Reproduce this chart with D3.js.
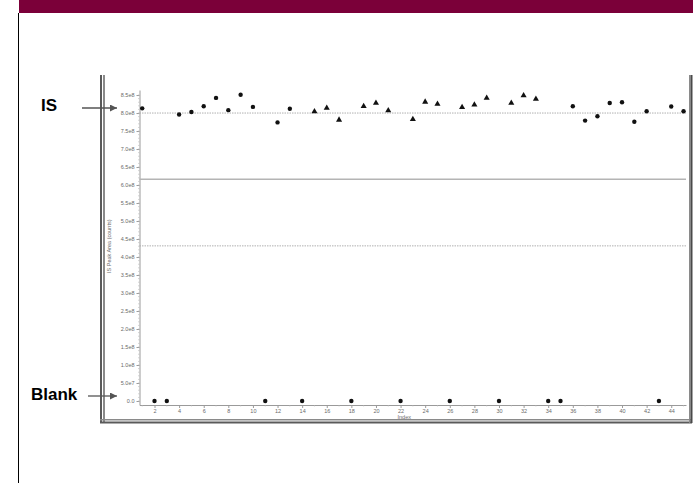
<!DOCTYPE html>
<html>
<head>
<meta charset="utf-8">
<script src="https://cdn.jsdelivr.net/npm/d3@7"></script>
<style>
  html, body { margin: 0; padding: 0; background: #fff; }
  svg { display: block; }
</style>
</head>
<body>
<script>
// Internal-standard peak areas by injection index, drawn as two marker groups
const isCircleIndex = [1, 4, 5, 6, 7, 8, 9, 10, 12, 13, 36, 37, 38, 39, 40, 41, 42, 44, 45];
const isCircleArea  = [8.13e8, 7.96e8, 8.03e8, 8.19e8, 8.42e8, 8.08e8, 8.51e8, 8.17e8, 7.74e8, 8.12e8,
                       8.19e8, 7.79e8, 7.91e8, 8.28e8, 8.30e8, 7.76e8, 8.05e8, 8.18e8, 8.05e8];
const isTriangleIndex = [15, 16, 17, 19, 20, 21, 23, 24, 25, 27, 28, 29, 31, 32, 33];
const isTriangleArea  = [8.04e8, 8.14e8, 7.81e8, 8.19e8, 8.28e8, 8.07e8, 7.83e8, 8.31e8, 8.25e8,
                         8.16e8, 8.23e8, 8.42e8, 8.28e8, 8.49e8, 8.39e8];
// Blank injections (no internal standard)
const blankIndex = [2, 3, 11, 14, 18, 22, 26, 30, 34, 35, 43];
const blankArea  = [0, 0, 0, 0, 0, 0, 0, 0, 0, 0, 0];

// Reference levels: mean (dotted), upper limit (solid), lower limit (dashed)
const refMean  = 8.0e8;
const refSolid = 6.16e8;
const refLower = 4.31e8;

// Axis ticks
const yTicks = [0, 0.5e8, 1.0e8, 1.5e8, 2.0e8, 2.5e8, 3.0e8, 3.5e8, 4.0e8, 4.5e8,
                5.0e8, 5.5e8, 6.0e8, 6.5e8, 7.0e8, 7.5e8, 8.0e8, 8.5e8];
const xTicks = [2, 4, 6, 8, 10, 12, 14, 16, 18, 20, 22, 24, 26, 28, 30, 32, 34, 36, 38, 40, 42, 44];
const xMinorTicks = [1, 3, 5, 7, 9, 11, 13, 15, 17, 19, 21, 23, 25, 27, 29, 31, 33, 35, 37, 39, 41, 43, 45];

const W = 693, H = 483;
const svg = d3.select("body").append("svg").attr("width", W).attr("height", H);

// Header band and left rule
svg.append("rect").attr("x", 19).attr("y", 0).attr("width", W - 19).attr("height", 13).attr("fill", "#7b0039");
svg.append("line").attr("x1", 18.5).attr("x2", 18.5).attr("y1", 13).attr("y2", H)
  .attr("stroke", "#000").attr("stroke-width", 1);

// Window frame around the plot
const frame = svg.append("g");
frame.append("rect").attr("x", 100).attr("y", 75).attr("width", 2).attr("height", 348).attr("fill", "#5a5a5a");
frame.append("rect").attr("x", 103).attr("y", 75).attr("width", 2).attr("height", 348).attr("fill", "#8a8a8a");
frame.append("rect").attr("x", 100).attr("y", 419).attr("width", 592).attr("height", 1.5).attr("fill", "#8a8a8a");
frame.append("rect").attr("x", 100).attr("y", 421.5).attr("width", 592).attr("height", 2).attr("fill", "#5a5a5a");
frame.append("rect").attr("x", 689).attr("y", 75).attr("width", 1.5).attr("height", 348).attr("fill", "#8a8a8a");
frame.append("rect").attr("x", 690.5).attr("y", 75).attr("width", 2).attr("height", 348).attr("fill", "#4a4a4a");

// Scales
const x = d3.scaleLinear().domain([0.78, 45.2]).range([139.5, 686]);
const y = d3.scaleLinear().domain([-0.111e8, 8.64e8]).range([405, 90]);

const plot = svg.append("g");
const axisColor = "#9a9a9a";
const labelColor = "#6a6a6a";
const tickFont = "5.5px";

// Y axis
const fmt = v => v === 0 ? "0.0" : d3.format(".1e")(v).replace("+", "");
const yAxis = plot.append("g").attr("transform", "translate(139.5,0)")
  .call(d3.axisLeft(y).tickValues(yTicks).tickFormat(fmt).tickSize(3).tickPadding(2).tickSizeOuter(0));
yAxis.select(".domain").attr("stroke", axisColor);
yAxis.selectAll(".tick line").attr("stroke", axisColor);
yAxis.selectAll(".tick text").attr("fill", labelColor).style("font-size", tickFont)
  .style("font-family", "Liberation Sans, Arial, sans-serif");
// Y minor ticks
const yMinor = d3.range(0, 8.6e8, 1e7);
plot.append("g").selectAll("line").data(yMinor).join("line")
  .attr("x1", 138).attr("x2", 139.5).attr("y1", d => y(d)).attr("y2", d => y(d))
  .attr("stroke", "#b8b8b8").attr("stroke-width", 0.6);

// X axis
const xAxis = plot.append("g").attr("transform", "translate(0,405)")
  .call(d3.axisBottom(x).tickValues(xTicks).tickFormat(d3.format("d")).tickSize(3).tickPadding(1.5).tickSizeOuter(0));
xAxis.select(".domain").attr("stroke", axisColor);
xAxis.selectAll(".tick line").attr("stroke", axisColor);
xAxis.selectAll(".tick text").attr("fill", labelColor).style("font-size", tickFont)
  .style("font-family", "Liberation Sans, Arial, sans-serif");
plot.append("g").selectAll("line").data(xMinorTicks).join("line")
  .attr("x1", d => x(d)).attr("x2", d => x(d)).attr("y1", 405).attr("y2", 406.5)
  .attr("stroke", "#b8b8b8").attr("stroke-width", 0.6);

// Axis titles
plot.append("text").attr("transform", `translate(111,${y(4.3e8)}) rotate(-90)`)
  .attr("text-anchor", "middle").attr("fill", labelColor)
  .style("font-size", "5.5px").style("font-family", "Liberation Sans, Arial, sans-serif")
  .text("IS Peak Area (counts)");
plot.append("text").attr("x", x(22.3)).attr("y", 419)
  .attr("text-anchor", "middle").attr("fill", labelColor)
  .style("font-size", "5.5px").style("font-family", "Liberation Sans, Arial, sans-serif")
  .text("Index");

// Reference lines
const [x0, x1] = x.range();
plot.append("line").attr("x1", x0).attr("x2", x1).attr("y1", y(refMean)).attr("y2", y(refMean))
  .attr("stroke", "#b0b0b0").attr("stroke-width", 1).attr("stroke-dasharray", "1.5,1");
plot.append("line").attr("x1", x0).attr("x2", x1).attr("y1", y(refSolid)).attr("y2", y(refSolid))
  .attr("stroke", "#b4b4b4").attr("stroke-width", 1.3);
plot.append("line").attr("x1", x0).attr("x2", x1).attr("y1", y(refLower)).attr("y2", y(refLower))
  .attr("stroke", "#b0b0b0").attr("stroke-width", 1).attr("stroke-dasharray", "1.5,1");

// Markers
const circleData = isCircleIndex.map((d, i) => ({ i: d, v: isCircleArea[i] }));
const triData = isTriangleIndex.map((d, i) => ({ i: d, v: isTriangleArea[i] }));
const blankData = blankIndex.map((d, i) => ({ i: d, v: blankArea[i] }));

plot.append("g").selectAll("circle").data(circleData.concat(blankData)).join("circle")
  .attr("cx", d => x(d.i)).attr("cy", d => y(d.v)).attr("r", 2.2).attr("fill", "#111");
const tri = d3.symbol().type(d3.symbolTriangle).size(16);
plot.append("g").selectAll("path").data(triData).join("path")
  .attr("transform", d => `translate(${x(d.i)},${y(d.v)})`).attr("d", tri).attr("fill", "#111");

// Callout labels with arrows
const defs = svg.append("defs");
defs.append("marker").attr("id", "arrowHead").attr("viewBox", "0 0 10 10")
  .attr("refX", 10).attr("refY", 5).attr("markerWidth", 7).attr("markerHeight", 7)
  .attr("markerUnits", "userSpaceOnUse").attr("orient", "auto")
  .append("path").attr("d", "M0,0 L10,5 L0,10 Z").attr("fill", "#555");

const notes = svg.append("g").style("font-family", "Liberation Sans, Arial, sans-serif")
  .style("font-weight", "bold").style("font-size", "17px").attr("fill", "#000");
notes.append("text").attr("x", 41).attr("y", 111).text("IS");
notes.append("text").attr("x", 31).attr("y", 400).text("Blank");
svg.append("line").attr("x1", 82).attr("x2", 117).attr("y1", 108).attr("y2", 108)
  .attr("stroke", "#555").attr("stroke-width", 1.3).attr("marker-end", "url(#arrowHead)");
svg.append("line").attr("x1", 88).attr("x2", 117).attr("y1", 396).attr("y2", 396)
  .attr("stroke", "#555").attr("stroke-width", 1.3).attr("marker-end", "url(#arrowHead)");
</script>
</body>
</html>
